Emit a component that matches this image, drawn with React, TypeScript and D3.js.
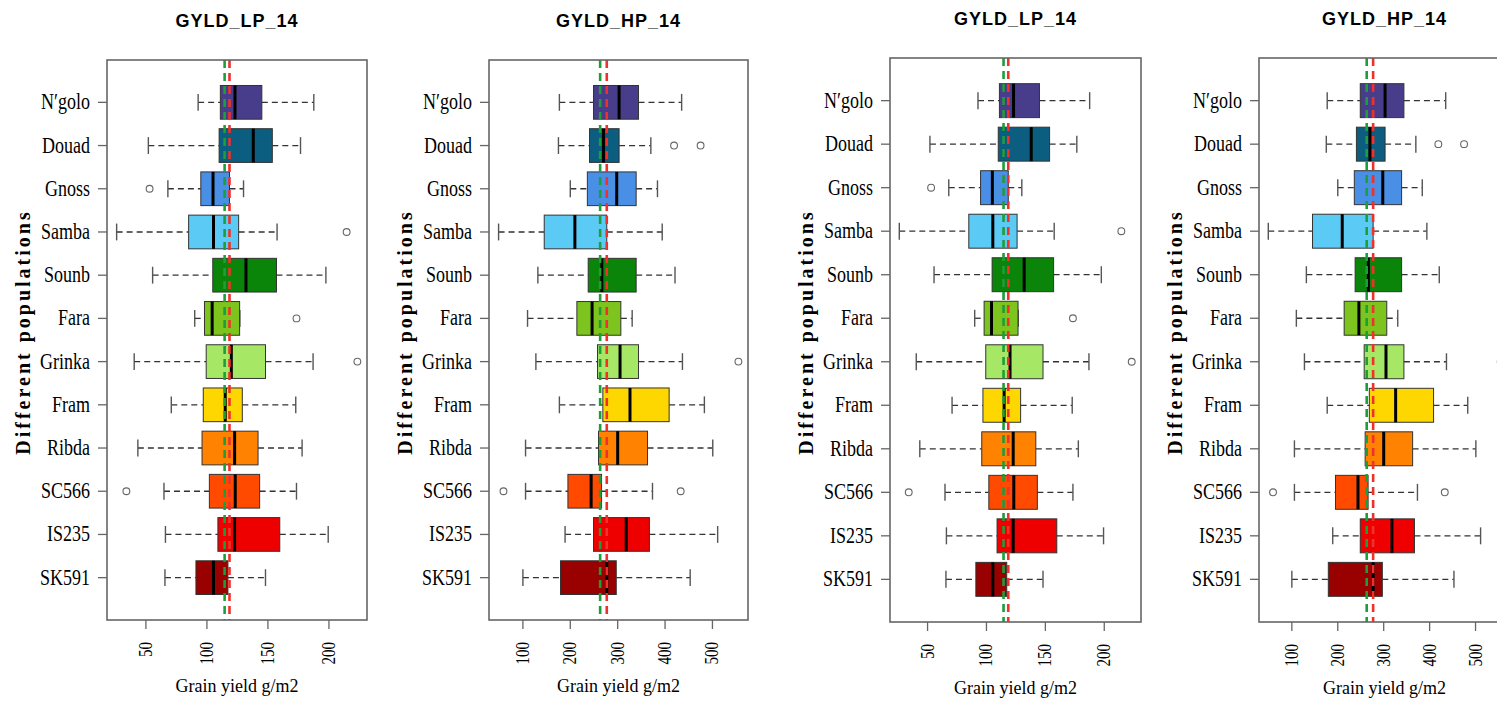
import * as d3 from "d3";

const populations = ["N′golo", "Douad", "Gnoss", "Samba", "Sounb", "Fara", "Grinka", "Fram", "Ribda", "SC566", "IS235", "SK591"];
const boxFill = ["#483D8B", "#0B5E80", "#4A8FE6", "#5BCBF5", "#0A850A", "#7DC41F", "#A6E866", "#FFD700", "#FF8200", "#FF4A00", "#EE0000", "#990000"];

// GYLD_LP_14
const lpLow = [92.8, 52, 68, 26, 55.5, 90, 40.4, 70.8, 43.4, 64.8, 66, 65.6];
const lpQ1 = [111, 110, 95, 85, 104.8, 98, 99.4, 97, 96, 102, 109, 91];
const lpMed = [123, 138, 105, 105.4, 132, 104.3, 120, 115, 122.7, 123.2, 122.7, 105.4];
const lpQ3 = [145, 153.6, 118.5, 126, 157, 126.8, 148, 129, 141.9, 143.2, 159.7, 117.2];
const lpHigh = [187.6, 176.7, 130, 157.5, 197.5, 127, 187, 172.8, 178, 173.4, 199.4, 148];
const lpOutPop = ["Gnoss", "Samba", "Fara", "Grinka", "SC566"];
const lpOutVal = [53, 214.5, 173.4, 223.3, 34];
const lpMeans = [114.5, 118.5];
const lpTicks = [50, 100, 150, 200];

// GYLD_HP_14
const hpLow = [177, 175, 200, 48.7, 131.6, 109.8, 127.4, 177, 105.6, 105.6, 189, 100];
const hpQ1 = [249, 240.6, 236, 145, 237.8, 213.9, 257.5, 268.7, 259.6, 195, 249, 179.4];
const hpMed = [303, 270, 298, 209.7, 266.6, 246, 305, 326, 300, 244, 318, 277];
const hpQ3 = [344, 303, 339, 277, 339, 306.7, 344, 408.6, 363, 266, 367, 297];
const hpHigh = [435, 370, 384, 394, 421, 330.6, 436.7, 483, 500.7, 373.5, 511, 453];
const hpOutPop = ["Douad", "Douad", "Grinka", "SC566", "SC566"];
const hpOutVal = [419, 475, 554.8, 59, 433];
const hpMeans = [263, 277];
const hpTicks = [100, 200, 300, 400, 500];

const lp = { title: "GYLD_LP_14", low: lpLow, q1: lpQ1, med: lpMed, q3: lpQ3, high: lpHigh, outPop: lpOutPop, outVal: lpOutVal, means: lpMeans, ticks: lpTicks };
const hp = { title: "GYLD_HP_14", low: hpLow, q1: hpQ1, med: hpMed, q3: hpQ3, high: hpHigh, outPop: hpOutPop, outVal: hpOutVal, means: hpMeans, ticks: hpTicks };

const panels = [
  { d: lp, left: 107, right: 367, top: 60, bottom: 620 },
  { d: hp, left: 489, right: 748, top: 60, bottom: 620 },
  { d: lp, left: 890, right: 1141, top: 58, bottom: 622 },
  { d: hp, left: 1259, right: 1510, top: 58, bottom: 622 },
];

const serif = "'Liberation Serif', 'DejaVu Serif', serif";
const frameCol = "#666";

function Panel({ p }: { p: any }) {
  const d = p.d;
  const all = [...d.low, ...d.high, ...d.outVal];
  const mn = d3.min(all) as number, mx = d3.max(all) as number;
  const pad = (mx - mn) * 0.04;
  const x = d3.scaleLinear().domain([mn - pad, mx + pad]).range([p.left, p.right]);
  const y = d3.scaleBand().domain(populations).range([p.top, p.bottom]).paddingInner(0).paddingOuter(0.48);
  const cy = (c: string) => (y(c) as number) + y.bandwidth() / 2;
  const bh = y.bandwidth() * 0.78;
  const cx = (p.left + p.right) / 2;
  const cyMid = (p.top + p.bottom) / 2;

  return (
    <g>
      <text x={cx} y={p.top - 33} textAnchor="middle" fontFamily="'Liberation Sans', Arial, sans-serif" fontWeight="bold" fontSize={18} letterSpacing={1}>{d.title}</text>
      <text transform={`translate(${p.left - 77},${cyMid - 8}) rotate(-90)`} textAnchor="middle" fontFamily={serif} fontWeight="bold" fontSize={20} letterSpacing={3}>Different populations</text>
      <text x={cx} y={p.bottom + 72} textAnchor="middle" fontFamily={serif} fontSize={18}>Grain yield g/m2</text>

      {populations.map((c, i) => {
        const yc = cy(c);
        return (
          <g key={c}>
            <line x1={p.left - 9} x2={p.left} y1={yc} y2={yc} stroke={frameCol} strokeWidth={1.3} />
            <text transform={`translate(${p.left - 17},${yc + 7}) scale(1,1.3)`} textAnchor="end" fontFamily={serif} fontSize={18}>{c}</text>
            <line x1={x(d.low[i])} x2={x(d.q1[i])} y1={yc} y2={yc} stroke="#333" strokeWidth={1.3} strokeDasharray="6,4" />
            <line x1={x(d.q3[i])} x2={x(d.high[i])} y1={yc} y2={yc} stroke="#333" strokeWidth={1.3} strokeDasharray="6,4" />
            <line x1={x(d.low[i])} x2={x(d.low[i])} y1={yc - bh / 4} y2={yc + bh / 4} stroke="#555" strokeWidth={1.4} />
            <line x1={x(d.high[i])} x2={x(d.high[i])} y1={yc - bh / 4} y2={yc + bh / 4} stroke="#555" strokeWidth={1.4} />
            <rect x={x(d.q1[i])} y={yc - bh / 2} width={x(d.q3[i]) - x(d.q1[i])} height={bh} fill={boxFill[i]} stroke="#333" strokeWidth={1} />
            <line x1={x(d.med[i])} x2={x(d.med[i])} y1={yc - bh / 2} y2={yc + bh / 2} stroke="#000" strokeWidth={3} />
          </g>
        );
      })}

      {d.outVal.map((v: number, k: number) => (
        <circle key={k} cx={x(v)} cy={cy(d.outPop[k])} r={3.4} fill="none" stroke="#666" strokeWidth={1.1} />
      ))}

      <line x1={x(d.means[0])} x2={x(d.means[0])} y1={p.top} y2={p.bottom} stroke="#1E9E3A" strokeWidth={2.6} strokeDasharray="8,5" />
      <line x1={x(d.means[1])} x2={x(d.means[1])} y1={p.top} y2={p.bottom} stroke="#F0302A" strokeWidth={2.6} strokeDasharray="8,5" />

      <rect x={p.left} y={p.top} width={p.right - p.left} height={p.bottom - p.top} fill="none" stroke={frameCol} strokeWidth={1.6} />

      {d.ticks.map((t: number) => (
        <g key={t}>
          <line x1={x(t)} x2={x(t)} y1={p.bottom} y2={p.bottom + 9} stroke={frameCol} strokeWidth={1.3} />
          <text transform={`translate(${x(t) + 6},${p.bottom + 22}) rotate(-90) scale(1,1.25)`} textAnchor="end" fontFamily={serif} fontSize={15}>{t}</text>
        </g>
      ))}
    </g>
  );
}

export default function App() {
  return (
    <svg width={1497} height={702} style={{ position: "absolute", left: 0, top: 0, background: "#fff" }}>
      <rect width={1497} height={702} fill="#fff" />
      {panels.map((p, i) => <Panel key={i} p={p} />)}
    </svg>
  );
}
